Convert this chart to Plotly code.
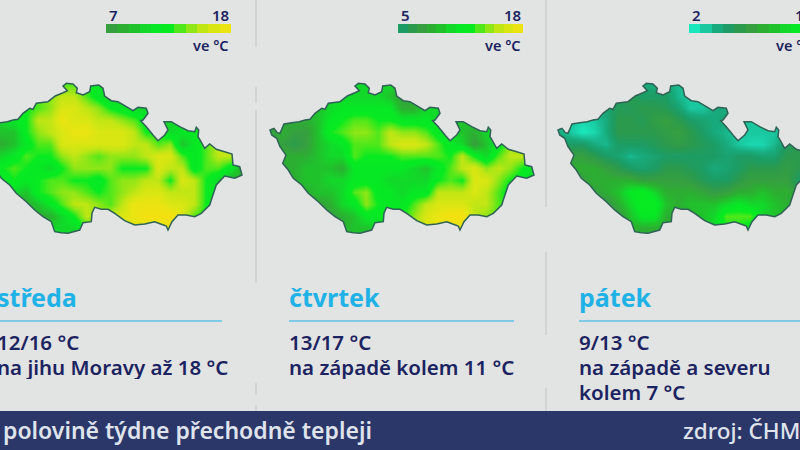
import numpy as np
import plotly.graph_objects as go

# shared temperature colours (deg C -> colour)
TEMP_STOPS = [2, 3, 4, 5, 6, 7, 8, 9, 10, 11, 12, 13, 14, 15, 16, 17, 18]
TEMP_COLORS = ["#1ae8bc", "#1ac8a0", "#18aa7c", "#1c9c64", "#2b9a4c", "#36a040", "#2cae32", "#20c22c",
               "#12d82a", "#06e824", "#08ea20", "#50e81a", "#90e616", "#c0e614", "#dae612", "#ebe412", "#f4e010"]

# forecast grids, 12 px cells
WED = [
    [12, 12, 12, 12, 12, 13, 13, 13, 13, 12, 11, 10, 10, 10, 10, 10, 10, 10, 10, 10, 10, 10, 10],
    [12, 12, 12, 12, 12, 13, 14, 15, 15, 13, 11, 9, 9, 9, 9, 10, 10, 10, 10, 10, 10, 10, 10],
    [11, 11, 11, 11, 12, 13, 14, 16, 16, 15, 14, 12, 11, 10, 10, 10, 10, 10, 10, 10, 10, 10, 10],
    [10, 10, 10, 11, 12, 15, 15, 17, 16, 16, 15, 15, 14, 13, 11, 10, 10, 10, 11, 10, 10, 10, 10],
    [9, 9, 9, 9, 12, 14, 15, 16, 17, 17, 16, 16, 16, 15, 12, 12, 10, 11, 11, 11, 11, 11, 11],
    [8, 8, 8, 9, 11, 13, 13, 16, 16, 16, 16, 16, 16, 15, 15, 13, 14, 9, 11, 13, 15, 15, 15],
    [10, 10, 10, 11, 13, 12, 12, 14, 15, 14, 13, 14, 14, 14, 15, 16, 16, 13, 11, 13, 15, 15, 15],
    [12, 12, 12, 13, 12, 11, 10, 12, 14, 14, 14, 14, 12, 12, 12, 16, 15, 15, 11, 13, 13, 11, 8],
    [11, 11, 11, 12, 11, 12, 13, 13, 12, 12, 11, 13, 14, 14, 15, 15, 12, 16, 15, 12, 10, 8, 8],
    [10, 10, 10, 10, 9, 12, 13, 14, 14, 13, 12, 13, 14, 15, 16, 16, 15, 15, 15, 12, 10, 10, 9],
    [8, 8, 8, 8, 8, 9, 11, 13, 15, 15, 14, 13, 15, 17, 17, 17, 16, 16, 15, 12, 11, 10, 10],
    [8, 8, 8, 8, 8, 8, 8, 10, 12, 15, 14, 15, 16, 17, 18, 18, 18, 16, 13, 12, 12, 12, 12],
    [9, 9, 9, 9, 9, 9, 10, 10, 10, 12, 14, 15, 16, 16, 16, 17, 17, 16, 14, 13, 13, 13, 13],
]
THU = [
    [8, 8, 8, 9, 9, 10, 10, 10, 10, 10, 10, 9, 9, 9, 9, 9, 9, 9, 9, 9, 9, 9, 9],
    [8, 8, 8, 9, 9, 10, 10, 10, 10, 10, 9, 7, 8, 9, 10, 10, 9, 9, 9, 9, 9, 9, 9],
    [7, 8, 8, 8, 9, 10, 11, 11, 11, 11, 11, 8, 8, 10, 10, 10, 9, 9, 9, 9, 9, 9, 9],
    [7, 7, 8, 8, 9, 11, 12, 13, 13, 12, 12, 11, 11, 11, 10, 10, 9, 9, 9, 9, 9, 9, 9],
    [7, 8, 7, 7, 9, 12, 13, 14, 14, 13, 15, 14, 14, 13, 11, 10, 9, 8, 10, 10, 10, 10, 10],
    [7, 7, 6, 7, 9, 10, 11, 13, 13, 13, 15, 16, 16, 15, 13, 11, 10, 7, 9, 11, 14, 14, 14],
    [8, 8, 8, 8, 9, 10, 10, 13, 12, 12, 12, 13, 13, 13, 13, 12, 15, 12, 10, 13, 15, 15, 15],
    [8, 8, 8, 9, 9, 9, 8, 11, 11, 11, 11, 11, 10, 9, 11, 13, 15, 16, 14, 15, 14, 12, 10],
    [8, 8, 8, 9, 9, 10, 10, 11, 11, 11, 10, 10, 10, 10, 12, 13, 12, 16, 16, 14, 12, 11, 10],
    [8, 8, 8, 8, 9, 9, 10, 13, 14, 11, 11, 10, 11, 11, 15, 15, 15, 16, 15, 13, 11, 10, 10],
    [7, 7, 7, 7, 7, 8, 10, 11, 14, 12, 11, 11, 13, 15, 16, 16, 16, 15, 15, 13, 12, 12, 12],
    [7, 7, 7, 7, 7, 7, 8, 9, 11, 11, 11, 12, 14, 16, 17, 18, 18, 15, 14, 13, 13, 13, 13],
    [8, 8, 8, 8, 8, 8, 8, 9, 9, 10, 11, 12, 14, 16, 17, 17, 17, 15, 14, 13, 13, 13, 13],
]
FRI = [
    [3, 3, 3, 4, 5, 5, 5, 4, 4, 4, 3.5, 3, 3, 3, 3, 3, 3, 3, 3, 3, 3, 3, 3],
    [3, 3, 3, 4, 4.5, 5, 6, 5, 5, 5, 3.5, 3, 3, 4, 4, 4, 3, 3, 3, 3, 3, 3, 3],
    [3, 3, 3, 4, 4.5, 5.5, 5.5, 6, 6, 5.5, 4.5, 3, 3, 4, 4, 4, 3, 3, 3, 3, 3, 3, 3],
    [3, 3, 2.5, 3, 4, 6, 6, 5.5, 6.5, 7, 6, 5, 4.5, 4, 4.5, 3.5, 3, 3, 3, 3, 3, 3, 3],
    [4, 3, 2, 2.5, 4, 6, 6, 6, 6, 6.5, 7, 6, 5, 4, 3.5, 3, 3, 3, 3, 4, 5, 5, 5],
    [5, 5, 5, 4, 3.5, 5, 5, 5, 5.5, 6, 6.5, 6, 5.5, 5, 4, 3, 2.5, 2.5, 3.5, 5, 6, 6, 6],
    [7, 7, 7, 6, 5, 4.5, 3.5, 4, 4.5, 5, 5, 5, 5, 5, 4.5, 5, 5, 4.5, 4.5, 6, 6, 6, 6],
    [8, 8, 8, 8, 7, 6, 5, 4.5, 5, 6, 6, 5.5, 5, 4, 4.5, 5, 6, 6, 6, 6.5, 6, 5, 5],
    [7, 7, 7, 8, 8, 8, 8, 7, 7, 7, 7, 6.5, 5.5, 5, 5, 6, 7, 7, 7, 7, 5, 5, 5],
    [7, 7, 7, 7, 8, 9, 11, 12, 10, 8, 8, 8, 7.5, 6.5, 7, 8, 8, 9, 8, 8, 7, 7, 7],
    [6, 6, 6, 6, 6, 8, 10, 12, 12, 9, 8, 9, 9, 9, 10, 11, 10, 10, 9, 8, 8, 8, 8],
    [6, 6, 6, 6, 6, 6, 9, 11, 11, 8, 8, 8, 9, 10, 13, 13, 13, 10, 9, 9, 9, 9, 9],
    [8, 8, 8, 8, 8, 8, 8, 8, 8, 8, 8, 8, 9, 10, 12, 12, 11, 10, 9, 9, 9, 9, 9],
]

# legend steps
BAR_WED = [7, 8, 9, 10, 11, 12, 13, 14, 15, 16, 17]
BAR_THU = [5, 6, 7, 8, 9, 10, 11, 12, 13, 14, 15, 16, 17]
BAR_FRI = [2, 3, 4, 5, 6, 7, 8, 9, 10, 11, 12]

DAYS = ["středa", "čtvrtek", "pátek"]
RANGES = ["12/16 °C", "13/17 °C", "9/13 °C"]
NOTES = [["na jihu Moravy až 18 °C"], ["na západě kolem 11 °C"], ["na západě a severu", "kolem 7 °C"]]
LOWS = ["7", "5", "2"]
HIGHS = ["18", "18", "13"]
TICKER = "polovině týdne přechodně tepleji"
SOURCE = "zdroj: ČHMÚ"

# border of the country, traced on a 3x crop of the middle panel
OUTLINE_X = [30, 42, 52, 60, 72, 95, 118, 135, 150, 165, 185, 195, 205, 240, 262, 285, 298, 285, 295, 315, 328, 325,
             345, 365, 368, 392, 405, 410, 430, 450, 475, 495, 510, 535, 540, 525, 518, 535, 555, 570, 590, 600, 588,
             610, 635, 660, 680, 685, 692, 690, 695, 710, 725, 745, 770, 792, 795, 815, 822, 800, 770, 745, 730, 725,
             700, 680, 655, 630, 612, 600, 595, 578, 560, 530, 500, 470, 440, 420, 400, 380, 372, 370, 345, 335, 300,
             280, 260, 250, 225, 200, 175, 145, 125, 100, 85, 68, 78, 60, 50, 35]
OUTLINE_Y = [180, 175, 188, 190, 162, 158, 155, 150, 148, 130, 115, 118, 100, 95, 78, 68, 62, 48, 40, 42, 55, 68,
             75, 65, 48, 45, 55, 78, 92, 95, 110, 122, 112, 115, 130, 150, 152, 170, 195, 212, 195, 180, 155,
             155, 170, 182, 185, 172, 180, 200, 208, 235, 222, 238, 245, 252, 285, 290, 315, 325, 318, 345, 390, 405,
             430, 440, 435, 435, 455, 480, 468, 462, 455, 462, 465, 452, 430, 418, 418, 412, 430, 455, 458, 480, 490,
             488, 485, 455, 440, 420, 395, 370, 345, 325, 300, 280, 255, 230, 205, 195]

BG = "#e2e3e3"
NAVY = "#1b2360"
BLUE = "#1fb2e6"
PANEL_DX = [-292, 0, 288]
TEXT_X = [-5, 287, 577]
RULE_X = [-3, 289, 579]
BAR_X = [106, 398, 689]
BAR_W = 125

colorscale = [[(t - 2) / 16, c] for t, c in zip(TEMP_STOPS, TEMP_COLORS)]
outline_x = 260 + np.array(OUTLINE_X) / 3
outline_y = 70 + np.array(OUTLINE_Y) / 3


def poly_path(xs, ys):
    return "M" + " L".join(f"{x:.1f},{y:.1f}" for x, y in zip(xs, ys)) + " Z"


fig = go.Figure()
shapes = []
annotations = []


def label(x, y, text, size, color=NAVY, anchor="left", weight=600, height=None):
    # paper coordinates, plotly drops axis annotations whose anchor is off range
    annotations.append(dict(x=x / 800, y=1 - y / 450, xref="paper", yref="paper", text=text, showarrow=False,
                            xanchor=anchor, yanchor="middle", height=height,
                            font=dict(family="Noto Sans", size=size, color=color, weight=weight)))


for i, grid in enumerate([WED, THU, FRI]):
    dx = PANEL_DX[i]
    fig.add_trace(go.Heatmap(
        z=grid,
        x=270 + dx + 12 * np.arange(len(grid[0])),
        y=84 + 12 * np.arange(len(grid)),
        zmin=2, zmax=18, colorscale=colorscale, showscale=False, zsmooth="best", hoverinfo="skip",
    ))
    # mask everything around the border with the background colour
    left, right = 258 + dx, 546 + dx
    rect = f"M{left},76 L{right},76 L{right},244 L{left},244 Z "
    border = poly_path(outline_x + dx, outline_y)
    shapes.append(dict(type="path", path=rect + border, fillcolor=BG, line_width=0, xref="x", yref="y"))
    shapes.append(dict(type="path", path=border, line=dict(color="#2f6355", width=1.5), xref="x", yref="y"))

for i, steps in enumerate([BAR_WED, BAR_THU, BAR_FRI]):
    cell = BAR_W / len(steps)
    fig.add_trace(go.Heatmap(
        z=[steps],
        x=BAR_X[i] + cell * np.arange(len(steps) + 1),
        y=[24, 33],
        zmin=2, zmax=18, colorscale=colorscale, showscale=False, hoverinfo="skip",
    ))
    label(BAR_X[i] + 1, 15, LOWS[i], 15)
    label(BAR_X[i] + BAR_W, 15, HIGHS[i], 15, anchor="right")
    label(BAR_X[i] + BAR_W, 45, "ve °C", 14.5, anchor="right")

    label(TEXT_X[i], 297, DAYS[i], 25, color=BLUE, weight=700)
    label(TEXT_X[i], 342, RANGES[i], 20.5, height=24)
    for k, line in enumerate(NOTES[i]):
        label(TEXT_X[i], 367 + 25 * k, line, 20.5, height=24)
    shapes.append(dict(type="line", x0=RULE_X[i], x1=RULE_X[i] + 225, y0=321, y1=321,
                       line=dict(color="#5fc4e8", width=1.5), xref="x", yref="y"))

# panel dividers
for x, spans in [(256, [(0, 47), (87, 103), (110, 283), (383, 395), (405, 411)]),
                 (546, [(0, 207), (252, 335), (388, 411)])]:
    for y0, y1 in spans:
        shapes.append(dict(type="line", x0=x, x1=x, y0=y0, y1=y1,
                           line=dict(color="#d2d3d4", width=2), xref="x", yref="y"))

# bottom strip
shapes.append(dict(type="rect", x0=0, x1=800, y0=411, y1=450, fillcolor="#2b3669", line_width=0, xref="x", yref="y"))
label(1, 430, TICKER, 23, color="#dfe3ec")
label(681, 430, SOURCE, 22.5, color="#dfe3ec", weight=500)

fig.update_layout(
    width=800, height=450,
    margin=dict(l=0, r=0, t=0, b=0),
    paper_bgcolor=BG, plot_bgcolor=BG,
    xaxis=dict(range=[0, 800], visible=False, fixedrange=True),
    yaxis=dict(range=[450, 0], visible=False, fixedrange=True),
    shapes=shapes,
    annotations=annotations,
)

fig.write_html("out.html", config={"displayModeBar": False},
               post_script="document.body.style.margin='0';document.body.style.background='#e2e3e3';")
